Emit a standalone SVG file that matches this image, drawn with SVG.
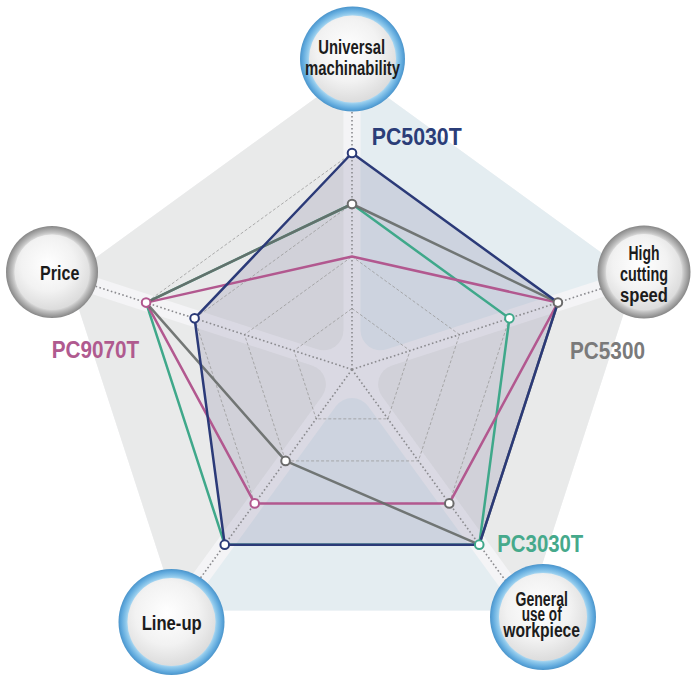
<svg xmlns="http://www.w3.org/2000/svg" width="692" height="675" viewBox="0 0 692 675">
<defs>
<style>
.sec-g{fill:#e9eaea}
.sec-b{fill:#e4edf1}
.ring{fill:none;stroke:#9a9a9a;stroke-width:0.8;stroke-dasharray:3 2}
.axis{stroke:#8a8a8e;stroke-width:1.6;stroke-dasharray:1.6 2.4;fill:none}
.ser{fill:none;stroke-width:2.5;stroke-linejoin:round}
.mk{fill:#fff;stroke-width:2}
.lbl{font-family:"Liberation Sans",Arial,sans-serif;font-weight:bold;font-size:23px}
.nt{font-family:"Liberation Sans",Arial,sans-serif;font-weight:bold;font-size:20px;fill:#1c1c1c;text-anchor:middle}
</style>
<path id="sector" d="M-16.18,-36.74 A20,20 0 0 0 16.18,-36.74 L164.6,-241.1 L-164.6,-241.1 Z"/>
<radialGradient id="blueRing" cx="50%" cy="50%" r="50%">
<stop offset="0.8" stop-color="#c4e4f6"/>
<stop offset="0.86" stop-color="#8fc9ec"/>
<stop offset="0.95" stop-color="#5ea8dc"/>
<stop offset="1" stop-color="#4b94ca"/>
</radialGradient>
<radialGradient id="grayRing" cx="50%" cy="50%" r="50%">
<stop offset="0.8" stop-color="#e2e2e2"/>
<stop offset="0.86" stop-color="#c2c2c2"/>
<stop offset="0.95" stop-color="#9c9c9c"/>
<stop offset="1" stop-color="#868686"/>
</radialGradient>
<radialGradient id="face" cx="45%" cy="40%" r="60%">
<stop offset="0" stop-color="#ffffff"/>
<stop offset="0.6" stop-color="#f2f2f2"/>
<stop offset="1" stop-color="#dcdcdc"/>
</radialGradient>
</defs>

<g id="background">
<polygon points="352,71.5 635.4,277.4 527.2,610.6 176.8,610.6 68.6,277.4" fill="#f4f4f6"/>
<use href="#sector" class="sec-b" transform="translate(352,369.5) rotate(36)"/>
<use href="#sector" class="sec-g" transform="translate(352,369.5) rotate(108)"/>
<use href="#sector" class="sec-b" transform="translate(352,369.5) rotate(180)"/>
<use href="#sector" class="sec-g" transform="translate(352,369.5) rotate(252)"/>
<use href="#sector" class="sec-g" transform="translate(352,369.5) rotate(324)"/>
</g>

<g id="area-fill">
<polygon points="352,153 557.91,302.6 479.26,544.65 224.74,544.65 194.59,318.36" fill="#4a4378" fill-opacity="0.15"/>
</g>

<g id="grid">
<polygon class="ring" points="352,308.5 410.02,350.65 387.86,418.85 316.14,418.85 293.98,350.65"/>
<polygon class="ring" points="352,256.5 459.47,334.58 418.42,460.92 285.58,460.92 244.53,334.58"/>
<polygon class="ring" points="352,204 509.41,318.36 449.28,503.39 254.72,503.39 194.59,318.36"/>
<polygon class="ring" points="352,153 557.91,302.6 479.26,544.65 224.74,544.65 146.09,302.6"/>
<line class="axis" x1="352" y1="369.5" x2="352" y2="70"/>
<line class="axis" x1="352" y1="369.5" x2="627.8" y2="279.9"/>
<line class="axis" x1="352" y1="369.5" x2="522.5" y2="604.1"/>
<line class="axis" x1="352" y1="369.5" x2="181.5" y2="604.1"/>
<line class="axis" x1="352" y1="369.5" x2="76.2" y2="279.9"/>
</g>

<g id="connectors">
<polygon id="s-pc3030t" class="ser" stroke="#3fa88a" stroke-width="2.2" points="352,204 509.41,318.36 479.26,544.65 224.74,544.65 146.09,302.6"/>
<polygon id="s-pc9070t" class="ser" stroke="#b2588f" points="352,256.5 557.91,302.6 449.28,503.39 254.72,503.39 146.09,302.6"/>
<polygon id="s-pc5300" class="ser" stroke="#666a68" stroke-opacity="0.9" points="352,204 557.91,302.6 479.26,544.65 285.58,460.92 146.09,302.6"/>
<polygon id="s-pc5030t" class="ser" stroke="#2b3a78" points="352,153 557.91,302.6 479.26,544.65 224.74,544.65 194.59,318.36"/>
</g>

<g id="markers">
<circle class="mk" stroke="#2b3a78" cx="352" cy="153" r="4.3"/>
<circle class="mk" stroke="#2b3a78" cx="194.59" cy="318.36" r="4.3"/>
<circle class="mk" stroke="#2b3a78" cx="224.74" cy="544.65" r="4.3"/>
<circle class="mk" stroke="#6b6b6b" cx="352" cy="204" r="4.3"/>
<circle class="mk" stroke="#6b6b6b" cx="557.91" cy="302.6" r="4.3"/>
<circle class="mk" stroke="#6b6b6b" cx="285.58" cy="460.92" r="4.3"/>
<circle class="mk" stroke="#6b6b6b" cx="449.28" cy="503.39" r="4.3"/>
<circle class="mk" stroke="#b2588f" cx="146.09" cy="302.6" r="4.3"/>
<circle class="mk" stroke="#b2588f" cx="254.72" cy="503.39" r="4.3"/>
<circle class="mk" stroke="#3fa88a" cx="509.41" cy="318.36" r="4.3"/>
<circle class="mk" stroke="#3fa88a" cx="479.26" cy="544.65" r="4.3"/>
</g>

<g id="series-labels">
<text class="lbl" fill="#2b3d78" x="371.7" y="145" textLength="90" lengthAdjust="spacingAndGlyphs">PC5030T</text>
<text class="lbl" fill="#7a7a7a" x="570" y="359" textLength="75" lengthAdjust="spacingAndGlyphs">PC5300</text>
<text class="lbl" fill="#b05a8f" x="51.7" y="358.3" textLength="87.6" lengthAdjust="spacingAndGlyphs">PC9070T</text>
<text class="lbl" fill="#46a98b" x="497.3" y="551.7" textLength="86" lengthAdjust="spacingAndGlyphs">PC3030T</text>
</g>

<g id="node-universal">
<circle cx="352.5" cy="59" r="52.5" fill="url(#blueRing)"/>
<circle cx="352.5" cy="59" r="43.5" fill="url(#face)"/>
<text class="nt"><tspan x="351.7" y="54" textLength="66.7" lengthAdjust="spacingAndGlyphs">Universal</tspan><tspan x="352.5" y="75" textLength="95" lengthAdjust="spacingAndGlyphs">machinability</tspan></text>
</g>

<g id="node-high">
<circle cx="644" cy="272" r="46.5" fill="url(#grayRing)"/>
<circle cx="644" cy="272" r="38" fill="url(#face)"/>
<text class="nt"><tspan x="644" y="260" textLength="31" lengthAdjust="spacingAndGlyphs">High</tspan><tspan x="644" y="281" textLength="48" lengthAdjust="spacingAndGlyphs">cutting</tspan><tspan x="644" y="302" textLength="48" lengthAdjust="spacingAndGlyphs">speed</tspan></text>
</g>

<g id="node-price">
<circle cx="52" cy="272" r="46" fill="url(#grayRing)"/>
<circle cx="52" cy="272" r="37.5" fill="url(#face)"/>
<text class="nt" x="59.7" y="280" textLength="39.3" lengthAdjust="spacingAndGlyphs">Price</text>
</g>

<g id="node-lineup">
<circle cx="171.5" cy="622" r="53" fill="url(#blueRing)"/>
<circle cx="171.5" cy="622" r="44" fill="url(#face)"/>
<text class="nt" x="171.7" y="630" font-size="21" textLength="60" lengthAdjust="spacingAndGlyphs">Line-up</text>
</g>

<g id="node-general">
<circle cx="543" cy="617" r="53" fill="url(#blueRing)"/>
<circle cx="543" cy="617" r="44" fill="url(#face)"/>
<text class="nt" font-size="17.5"><tspan x="541.7" y="605.5" textLength="52.3" lengthAdjust="spacingAndGlyphs">General</tspan><tspan x="541.7" y="621" textLength="40" lengthAdjust="spacingAndGlyphs">use of</tspan><tspan x="541.7" y="636.5" textLength="76.7" lengthAdjust="spacingAndGlyphs">workpiece</tspan></text>
</g>
</svg>
